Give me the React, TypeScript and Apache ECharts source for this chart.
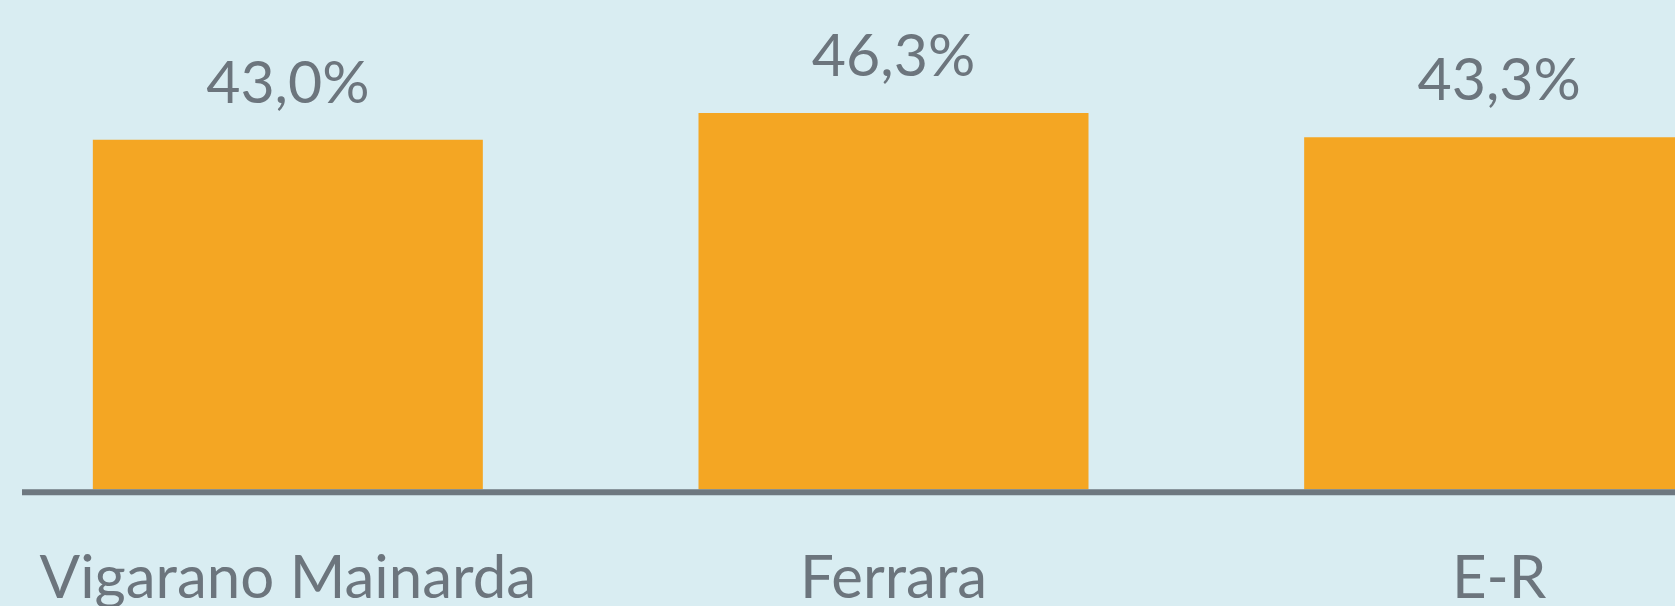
import React, { useEffect, useRef } from "react";
import * as echarts from "echarts";

const categories = ["Vigarano Mainarda", "Ferrara", "E-R"];
const values = [43.0, 46.3, 43.3];

const BG = "#d9edf2";
const BAR = "#f4a623";
const TEXT = "#6c757d";
const AXIS = "#6e7880";

export default function App() {
  const ref = useRef<HTMLDivElement>(null);
  useEffect(() => {
    if (!ref.current) return;
    const chart = echarts.init(ref.current, null, { renderer: "svg" });
    const baseline = 489.3;
    const yMax = 60;
    const pxPerUnit = 8.13;
    const top = baseline - yMax * pxPerUnit;
    chart.setOption({
      animation: false,
      backgroundColor: BG,
      grid: {
        left: -15,
        width: 1817,
        top: top,
        height: baseline - top,
        outerBoundsMode: "none",
        containLabel: false,
      },
      xAxis: {
        type: "category",
        data: categories,
        axisLine: { show: false },
        axisTick: { show: false },
        axisLabel: {
          interval: 0,
          margin: 56,
          color: TEXT,
          fontFamily: "Lato",
          fontSize: 60,
          lineHeight: 60,
          verticalAlign: "top",
        },
      },
      yAxis: {
        type: "value",
        min: 0,
        max: yMax,
        show: false,
        splitLine: { show: false },
      },
      graphic: [
        {
          type: "line",
          shape: { x1: 22, y1: baseline + 3, x2: 1675, y2: baseline + 3 },
          style: { stroke: AXIS, lineWidth: 6 },
          z: 10,
        },
      ],
      series: [
        {
          type: "bar",
          data: values,
          barWidth: 390,
          itemStyle: { color: BAR },
          label: {
            show: true,
            position: "top",
            distance: 30,
            color: TEXT,
            fontFamily: "Lato",
            fontSize: 59,
            lineHeight: 59,
            formatter: (p: any) => p.value.toFixed(1).replace(".", ",") + "%",
          },
        },
      ],
    });
    return () => chart.dispose();
  }, []);
  return (
    <div
      ref={ref}
      style={{ position: "fixed", left: 0, top: 0, width: 1675, height: 606 }}
    />
  );
}
